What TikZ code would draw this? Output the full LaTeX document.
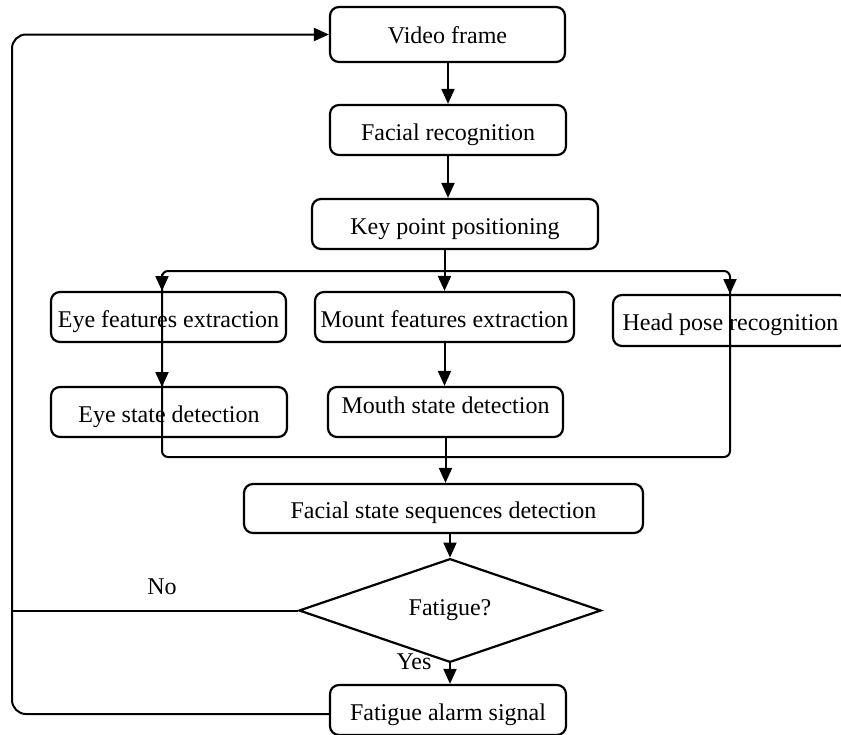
\documentclass[tikz,border=0pt]{standalone}
\usepackage{fontspec}
\setmainfont{Liberation Serif}
\usetikzlibrary{shapes.geometric,arrows.meta}
\begin{document}
\begin{tikzpicture}[x=1pt,y=-1pt,
  txt/.style={font=\fontsize{24}{28}\selectfont},
  box/.style={txt,draw,line width=2.2pt,rounded corners=9pt,minimum height=50pt,inner sep=0pt,text height=20pt,text depth=0pt},
  conn/.style={line width=2pt},
  arr/.style={line width=2pt,-{Triangle[length=15pt,width=13pt]}},
  lbl/.style={txt,inner sep=0pt}]
\useasboundingbox (0,0) rectangle (841,734);
\clip (0,0) rectangle (841,734);
\fill[white] (0,0) rectangle (841,734);

% boxes
\node[box,minimum width=235pt,minimum height=55pt,text height=18pt] (vf) at (447.5,34.5) {Video frame};
\node[box,minimum width=236pt] (fr) at (448,130) {Facial recognition};
\node[box,minimum width=286pt] (kp) at (455,224) {Key point positioning};
\node[box,minimum width=235pt] (ef) at (168.5,317) {Eye features extraction};
\node[box,minimum width=259pt] (mf) at (444.5,317) {Mount features extraction};
\node[box,minimum width=235pt,minimum height=51pt] (hp) at (730.5,320.5) {Head pose recognition};
\node[box,minimum width=236pt] (es) at (169,412) {Eye state detection};
\node[box,minimum width=235pt] (ms) at (445.5,412) {\raisebox{9pt}{Mouth state detection}};
\node[box,minimum width=399pt,minimum height=49pt] (fs) at (443.5,508.5) {Facial state sequences detection};
\node[txt,draw,diamond,line width=2.2pt,minimum width=302pt,minimum height=81pt,inner sep=0pt] (dia) at (450,610.5) {Fatigue?};
\node[box,minimum width=236pt] (fa) at (448,710) {Fatigue alarm signal};

% labels
\node[lbl] (no) at (162,587) {No};
\node[lbl] (yes) at (414,662) {Yes};

% coordinates
\coordinate (btl) at (162,271);
\coordinate (bbr) at (730,457);
\coordinate (la1s) at (162,274);
\coordinate (la1e) at (162,291);
\coordinate (la2s) at (162,370);
\coordinate (la2e) at (162,387);
\coordinate (ras) at (730,277);
\coordinate (rae) at (730,294);
\coordinate (lp) at (12,400);
\coordinate (noj) at (12,610.5);

% main chain
\draw[arr] (vf.south -| fr.north) -- (fr.north);
\draw[arr] (fr.south) -- (fr.south |- kp.north);
\draw[arr] (kp.south -| mf.north) -- (mf.north);
\draw[arr] (mf.south) -- (mf.south |- ms.north);

% bus
\draw[conn,rounded corners=6pt] (btl) rectangle (bbr);
\draw[arr] (la1s) -- (la1e);
\draw[arr] (la2s) -- (la2e);
\draw[arr] (ras) -- (rae);
\draw[arr] (ms.south) -- (ms.south |- fs.north);

\draw[arr] (fs.south -| dia.north) -- (dia.north);
\draw[arr] (dia.south) -- (dia.south |- fa.north);

% loop
\draw[conn] (dia.west) -- (noj);
\draw[arr,rounded corners=14pt] ([yshift=-4pt]fa.west) -| (lp) |- (vf.west);
\end{tikzpicture}
\end{document}
